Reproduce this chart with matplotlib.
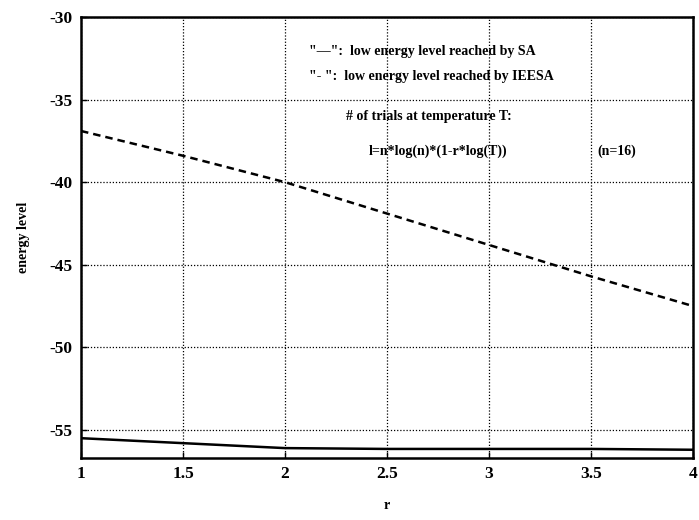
import matplotlib
matplotlib.use("Agg")
import matplotlib.pyplot as plt

# r values and the lowest energy levels reached
r_values = [1.0, 1.5, 2.0, 2.5, 3.0, 3.5, 4.0]
energy_sa = [-55.5, -55.8, -56.1, -56.15, -56.15, -56.15, -56.2]
energy_ieesa = [-36.9, -38.4, -40.0, -41.9, -43.8, -45.7, -47.5]

x_ticks = [1, 1.5, 2, 2.5, 3, 3.5, 4]
x_tick_labels = ["1", "1.5", "2", "2.5", "3", "3.5", "4"]
y_ticks = [-55, -50, -45, -40, -35, -30]

plt.rcParams["font.family"] = ["Liberation Serif", "DejaVu Serif"]
plt.rcParams["font.weight"] = "bold"
plt.rcParams["axes.unicode_minus"] = False

fig = plt.figure(figsize=(6.99, 5.2), dpi=100)
ax = fig.add_axes([0.1159, 0.1192, 0.8755, 0.8481])

ax.plot(r_values, energy_sa, color="black", linewidth=1.8, linestyle="-")
ax.plot(r_values, energy_ieesa, color="black", linewidth=1.8, linestyle=(0, (3, 2)))

ax.set_xlim(1, 4)
ax.set_ylim(-56.7, -30)
ax.set_xticks(x_ticks)
ax.set_xticklabels(x_tick_labels)
ax.set_yticks(y_ticks)
ax.tick_params(direction="in", length=4, width=1, labelsize=12.5, pad=6)
for lbl in ax.get_xticklabels() + ax.get_yticklabels():
    lbl.set_fontweight("bold")

ax.grid(True, linestyle=(0, (1, 1.5)), color="black", linewidth=0.9)
for s in ax.spines.values():
    s.set_linewidth(1.8)

ax.set_ylabel("energy level", fontsize=10, fontweight="bold", labelpad=14)
ax.set_xlabel("r", fontsize=10, fontweight="bold", labelpad=12)

txt = dict(fontsize=10, fontweight="bold", va="center", ha="left")
ax.text(2.12, -32.06, "\"\u2014\":  low energy level reached by SA", **txt)
ax.text(2.12, -33.6, "\"- \":  low energy level reached by IEESA", **txt)
ax.text(2.30, -36.0, "# of trials at temperature T:", **txt)
ax.text(2.41, -38.1, "l=n*log(n)*(1-r*log(T))", **txt)
ax.text(3.53, -38.1, "(n=16)", **txt)

fig.savefig("out.png", dpi=100)
